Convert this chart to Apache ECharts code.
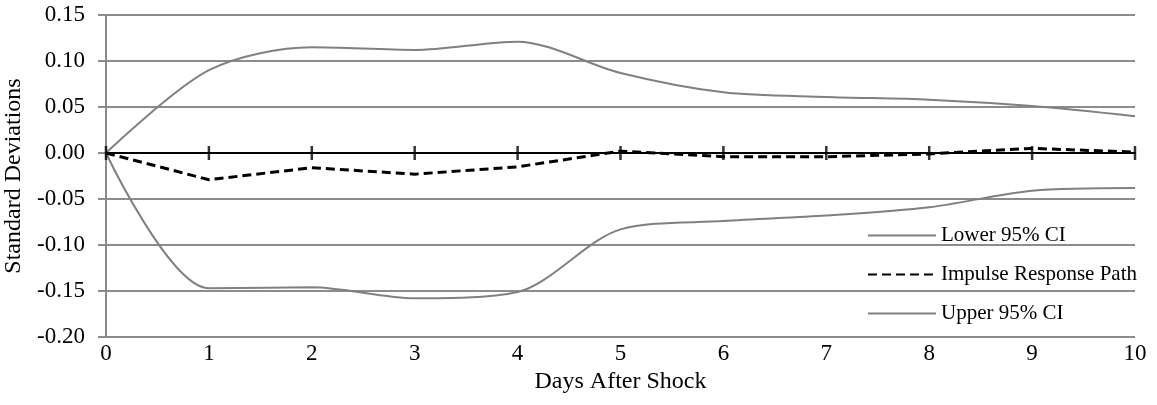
<!DOCTYPE html>
<html>
<head>
<meta charset="utf-8">
<script src="https://cdn.jsdelivr.net/npm/echarts@6/dist/echarts.min.js"></script>
<style>
html, body { margin: 0; padding: 0; background: #fff; }
#main { width: 1157px; height: 405px; }
</style>
</head>
<body>
<div id="main"></div>
<script>
var days = [0, 1, 2, 3, 4, 5, 6, 7, 8, 9, 10];
var lowerCI = [0, -0.147, -0.146, -0.158, -0.151, -0.083, -0.074, -0.068, -0.059, -0.041, -0.038];
var impulse = [0, -0.029, -0.016, -0.023, -0.015, 0.002, -0.004, -0.004, -0.001, 0.005, 0.001];
var upperCI = [0, 0.090, 0.115, 0.112, 0.121, 0.087, 0.066, 0.061, 0.058, 0.051, 0.040];
var seriesNames = [ 'Lower 95% CI', 'Impulse Response Path', 'Upper 95% CI' ];

function pairs(vals) {
	var out = [];
	for (var i = 0; i < days.length; i++) {
		out.push([days[i], vals[i]]);
	}
	return out;
}

// tick marks that cross the zero line
function zeroTicks() {
	var out = [];
	for (var i = 0; i < days.length; i++) {
		out.push([days[i], 0]);
	}
	return out;
}

var font = 'Liberation Serif';
var gridGray = '#8c8c8c';

var myChart = echarts.init(document.getElementById('main'));
myChart.setOption({
	animation : false,
	textStyle : { fontFamily : font },
	grid : { left : 106, right : 22, top : 15, bottom : 68, outerBoundsMode : 'none' },
	legend : {
		orient : 'vertical',
		left : 862,
		top : 219,
		itemWidth : 68,
		itemHeight : 14,
		itemGap : 16,
		itemStyle : { opacity : 0 },
		textStyle : { fontFamily : font, fontSize : 21, color : '#000', lineHeight : 23 },
		data : seriesNames
	},
	xAxis : [ {
		type : 'value',
		min : 0,
		max : 10,
		interval : 1,
		name : 'Days After Shock',
		nameLocation : 'middle',
		nameGap : 32,
		nameTextStyle : { fontFamily : font, fontSize : 24, color : '#000' },
		axisLine : { onZero : false, show : false },
		axisTick : { show : false },
		axisLabel : { fontFamily : font, fontSize : 23, color : '#000', margin : 5 },
		splitLine : { show : false }
	}, {
		type : 'value',
		min : 0,
		max : 10,
		interval : 1,
		position : 'bottom',
		axisLine : { onZero : true, lineStyle : { color : '#000', width : 2 } },
		axisTick : { show : false },
		axisLabel : { show : false },
		splitLine : { show : false }
	} ],
	yAxis : {
		type : 'value',
		min : -0.2,
		max : 0.15,
		interval : 0.05,
		name : 'Standard Deviations',
		nameLocation : 'middle',
		nameRotate : 90,
		nameGap : 74,
		nameTextStyle : { fontFamily : font, fontSize : 24, color : '#000' },
		axisLine : { show : true, lineStyle : { color : gridGray, width : 2 } },
		axisTick : { show : true, length : 8, lineStyle : { color : gridGray, width : 2 } },
		axisLabel : {
			fontFamily : font,
			fontSize : 23,
			color : '#000',
			margin : 21,
			formatter : function(v) { return v.toFixed(2); }
		},
		splitLine : { show : true, lineStyle : { color : gridGray, width : 2 } }
	},
	series : [ {
		name : seriesNames[0],
		type : 'line',
		smooth : 0.3,
		symbol : 'none',
		lineStyle : { color : '#808080', width : 2 },
		itemStyle : { color : '#808080' },
		data : pairs(lowerCI),
		z : 3
	}, {
		name : seriesNames[1],
		type : 'line',
		symbol : 'none',
		lineStyle : { color : '#000', width : 3, type : [ 9, 5 ] },
		itemStyle : { color : '#000' },
		data : pairs(impulse),
		z : 4
	}, {
		name : seriesNames[2],
		type : 'line',
		smooth : 0.3,
		symbol : 'none',
		lineStyle : { color : '#808080', width : 2 },
		itemStyle : { color : '#808080' },
		data : pairs(upperCI),
		z : 3
	}, {
		name : 'ticks',
		type : 'scatter',
		silent : true,
		symbol : 'rect',
		symbolSize : [ 2.5, 14 ],
		itemStyle : { color : '#000' },
		data : zeroTicks(),
		z : 5
	} ]
});
</script>
</body>
</html>
